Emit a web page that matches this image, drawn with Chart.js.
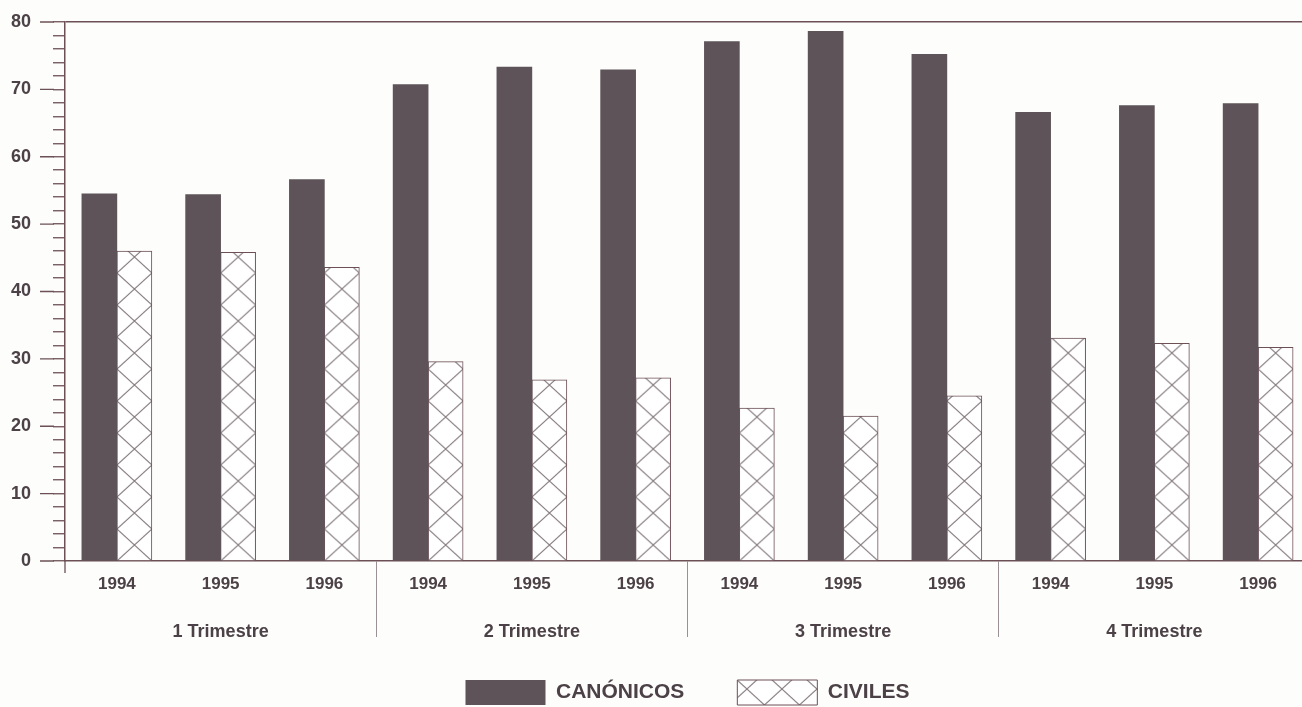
<!DOCTYPE html>
<html>
<head>
<meta charset="utf-8">
<script src="https://cdn.jsdelivr.net/npm/chart.js@4.4.1/dist/chart.umd.min.js"></script>
<style>
  html, body { margin: 0; padding: 0; background: #fdfdfb; overflow: hidden; }
  #wrap { position: relative; width: 1310px; height: 707px; }
</style>
</head>
<body>
<div id="wrap"><canvas id="c"></canvas></div>
<script>
// ---- data ----
const yearLabels = ['1994','1995','1996','1994','1995','1996','1994','1995','1996','1994','1995','1996'];
const quarterLabels = ['1 Trimestre','2 Trimestre','3 Trimestre','4 Trimestre'];
const canonicos = [54.5, 54.4, 56.6, 70.7, 73.3, 72.9, 77.1, 78.6, 75.2, 66.6, 67.6, 67.9];
const civiles   = [46.0, 45.8, 43.6, 29.6, 26.9, 27.2, 22.7, 21.5, 24.5, 33.1, 32.3, 31.7];
const majorTicks = [0, 10, 20, 30, 40, 50, 60, 70, 80];
const groupBoundaries = [3, 6, 9];

// ---- styles ----
const FONT = '"Liberation Sans", Arial, Helvetica, sans-serif';
const textColor = '#4b4146';
const axisColor = '#6c5056';
const darkFill = '#5d5359';
const hatchColor = '#857b80';

function makeHatch(chartCtx) {
  const w = 35, h = 32;
  const t = document.createElement('canvas');
  t.width = w; t.height = h;
  const g = t.getContext('2d');
  g.fillStyle = '#ffffff';
  g.fillRect(0, 0, w, h);
  g.strokeStyle = hatchColor;
  g.lineWidth = 1.1;
  g.beginPath();
  g.moveTo(0, 0); g.lineTo(w, h);
  g.moveTo(w, 0); g.lineTo(0, h);
  g.stroke();
  return chartCtx.createPattern(t, 'repeat');
}

function hatchFill(ctx) {
  const chart = ctx.chart;
  const pat = makeHatch(chart.ctx);
  if (ctx.type === 'data' && chart.scales && chart.scales.x && chart.chartArea) {
    const cx = chart.scales.x.getPixelForValue(ctx.dataIndex);
    try { pat.setTransform(new DOMMatrix().translate(cx, chart.chartArea.bottom)); } catch (e) {}
  }
  return pat;
}

const axisExtras = {
  id: 'axisExtras',
  afterDraw(chart) {
    const ys = chart.scales.y;
    const {left, bottom} = chart.chartArea;
    const c = chart.ctx;
    c.save();
    c.strokeStyle = axisColor;
    c.lineWidth = 1.3;
    c.beginPath();
    majorTicks.forEach(v => {
      const py = ys.getPixelForValue(v);
      c.moveTo(left - 25, py);
      c.lineTo(left - 11, py);
    });
    c.moveTo(left, bottom);
    c.lineTo(left, bottom + 12);
    c.stroke();
    c.restore();
  }
};

new Chart(document.getElementById('c'), {
  type: 'bar',
  data: {
    labels: yearLabels,
    datasets: [
      {
        label: 'CANÓNICOS',
        data: canonicos,
        backgroundColor: darkFill,
        borderWidth: 0,
        barThickness: 35
      },
      {
        label: 'CIVILES',
        data: civiles,
        backgroundColor: hatchFill,
        borderColor: axisColor,
        borderWidth: 1,
        borderSkipped: 'bottom',
        barThickness: 35
      }
    ]
  },
  options: {
    responsive: true,
    maintainAspectRatio: false,
    animation: false,
    layout: { padding: { top: 22, right: 0, bottom: -8, left: 0 } },
    plugins: {
      tooltip: { enabled: false },
      legend: {
        position: 'bottom',
        fullSize: false,
        labels: {
          boxWidth: 80,
          boxHeight: 25,
          padding: 53,
          color: textColor,
          font: { family: FONT, size: 21, weight: 'bold' }
        }
      }
    },
    scales: {
      x: {
        weight: 0,
        offset: true,
        afterFit: s => { s.height = 40; },
        grid: {
          offset: true,
          drawOnChartArea: false,
          drawTicks: true,
          tickLength: 76,
          tickColor: c => groupBoundaries.includes(c.index) ? '#9a9095' : 'rgba(0,0,0,0)',
          tickWidth: 1
        },
        border: { display: true, color: axisColor, width: 1.5 },
        ticks: {
          autoSkip: false,
          maxRotation: 0,
          padding: -63,
          color: textColor,
          font: { family: FONT, size: 17, weight: 'bold' }
        }
      },
      x2: {
        type: 'category',
        position: 'bottom',
        weight: 1,
        labels: quarterLabels,
        offset: true,
        afterFit: s => { s.height = 26; },
        grid: { display: false, drawTicks: false },
        border: { display: false },
        ticks: {
          autoSkip: false,
          maxRotation: 0,
          mirror: true,
          padding: -42,
          color: textColor,
          font: { family: FONT, size: 18, weight: 'bold' }
        }
      },
      y: {
        min: 0,
        max: 80,
        afterFit: s => { s.width = 65; s.paddingTop = 10; s.paddingBottom = 0; },
        grid: {
          drawOnChartArea: true,
          color: c => (c.tick && c.tick.value === 80) ? axisColor : 'rgba(0,0,0,0)',
          lineWidth: 1.5,
          tickColor: axisColor,
          tickLength: 12,
          tickWidth: 1.3
        },
        border: { display: true, color: axisColor, width: 1.5 },
        ticks: {
          stepSize: 2,
          maxTicksLimit: 100,
          autoSkip: false,
          padding: 22,
          color: textColor,
          font: { family: FONT, size: 18, weight: 'bold' },
          callback: v => (v % 10 === 0 ? String(v) : '')
        }
      }
    }
  },
  plugins: [axisExtras]
});
</script>
</body>
</html>
